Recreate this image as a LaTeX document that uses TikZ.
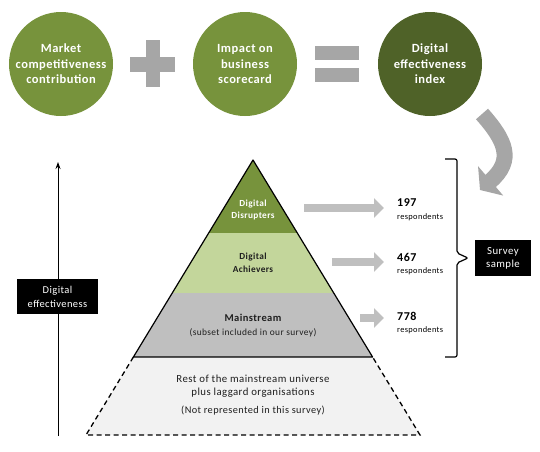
\documentclass[tikz,border=0pt]{standalone}
\usepackage{fontspec}
\setmainfont{Carlito}[LetterSpace=4]
\usepackage{xcolor}
\usetikzlibrary{arrows.meta, positioning, calc}

\definecolor{olivegreen}{HTML}{77933C}
\definecolor{darkolive}{HTML}{4F6228}
\definecolor{achievegreen}{HTML}{C3D69B}
\definecolor{mainstreamgray}{HTML}{BFBFBF}
\definecolor{restgray}{HTML}{F2F2F2}
\definecolor{signgray}{HTML}{A6A6A6}
\definecolor{arrowgray}{HTML}{BFBFBF}
\definecolor{textdark}{HTML}{1F1F1F}

\begin{document}
\begin{tikzpicture}[
    x=1pt, y=-1pt,
    circ/.style={circle, fill=olivegreen, minimum size=104pt, inner sep=0pt, text=white, align=center, font=\bfseries\fontsize{12.5}{15.5}\selectfont},
    blackbox/.style={rectangle, fill=black, text=white, align=center, inner sep=0pt, font=\fontsize{10.8}{13}\selectfont},
    layertext/.style={align=center, inner sep=0pt, font=\bfseries\fontsize{9.3}{12.5}\selectfont},
    count/.style={anchor=west, align=left, inner sep=0pt, font=\fontsize{8.4}{12.5}\selectfont},
    blockarrow/.style={draw=arrowgray, line width=8pt, -{Triangle[length=10pt, width=19pt]}, shorten >=13pt}
]
\useasboundingbox (0,0) rectangle (540,451);

% Formula
\node (market) [circ] at (61,64) {Market\\competitiveness\\contribution};
\node (impact) [circ] at (245,64) {Impact on\\business\\scorecard};
\node (index) [circ, fill=darkolive] at (430,64) {Digital\\effectiveness\\index};

\fill[signgray] (130,57) rectangle (175,72);
\fill[signgray] (146,40) rectangle (160,87);
\fill[signgray] (315,46) rectangle (359,60);
\fill[signgray] (315,68) rectangle (359,82);

% Curved arrow
\draw[signgray, line width=16pt, -{Triangle[length=14pt, width=38pt]}] (482,114) .. controls (505,140) and (515,160) .. (480,190);

% Pyramid
\fill[olivegreen] (253,160) -- (297.3,233) -- (208.7,233) -- cycle;
\fill[achievegreen] (208.7,233) -- (297.3,233) -- (333.7,293) -- (172.3,293) -- cycle;
\fill[mainstreamgray] (172.3,293) -- (333.7,293) -- (372.6,357) -- (133.4,357) -- cycle;
\fill[restgray] (133.4,357) -- (372.6,357) -- (420,435) -- (86,435) -- cycle;
\draw[line width=1.2pt, line join=round] (133.4,357) -- (253,160) -- (372.6,357) -- cycle;
\draw[line width=1.3pt, dash pattern=on 5pt off 3.5pt] (133.4,357) -- (86,435) -- (420,435) -- (372.6,357);

\node (disrupters) [layertext, text=white] at (253,210) {Digital\\Disrupters};
\node (achievers) [layertext, text=textdark] at (253,263) {Digital\\Achievers};
\node (mainstream) [layertext, text=textdark, font=\bfseries\fontsize{10.5}{12}\selectfont] at (253,318) {Mainstream};
\node (subset) [inner sep=0pt, text=textdark, font=\fontsize{9.4}{11}\selectfont] at (253,333) {(subset included in our survey)};
\node (rest) [align=center, inner sep=0pt, text=textdark, font=\fontsize{10.8}{13}\selectfont] at (253,386.5) {Rest of the mainstream universe\\plus laggard organisations};
\node (notrep) [inner sep=0pt, text=textdark, font=\fontsize{10.3}{12}\selectfont] at (253,411) {(Not represented in this survey)};

% Counts
\node (disruptcount) [count] at (397,209.5) {{\bfseries\fontsize{12}{12}\selectfont 197}\\respondents};
\node (achievecount) [count] at (397,264) {{\bfseries\fontsize{12}{12}\selectfont 467}\\respondents};
\node (mainstreamcount) [count] at (397,323) {{\bfseries\fontsize{12}{12}\selectfont 778}\\respondents};

\coordinate (disrupttail) at (304,208);
\coordinate (achievetail) at (332,262);
\coordinate (mainstreamtail) at (360,318);
\draw[blockarrow] (disrupttail) -- (disrupttail -| disruptcount.west);
\draw[blockarrow] (achievetail) -- (achievetail -| achievecount.west);
\draw[blockarrow] (mainstreamtail) -- (mainstreamtail -| mainstreamcount.west);

% Brace and survey sample
\draw[line width=1.2pt, rounded corners=2pt] (445,159) -- (457,159) -- (457,253) -- (468,258) -- (457,263) -- (457,357) -- (445,357);
\node (survey) [blackbox, minimum width=56pt, minimum height=36pt] at (503,258) {Survey\\sample};

% Axis
\coordinate (axisbottom) at (58,436);
\coordinate (axistop) at (58,162);
\draw[line width=1pt, -{Stealth[length=7pt, width=5pt]}] (axisbottom) -- (axistop);
\node (axislabel) [blackbox, minimum width=81pt, minimum height=35pt, font=\fontsize{10.5}{14}\selectfont] at (57.5,296.5) {Digital\\effectiveness};

\end{tikzpicture}
\end{document}
